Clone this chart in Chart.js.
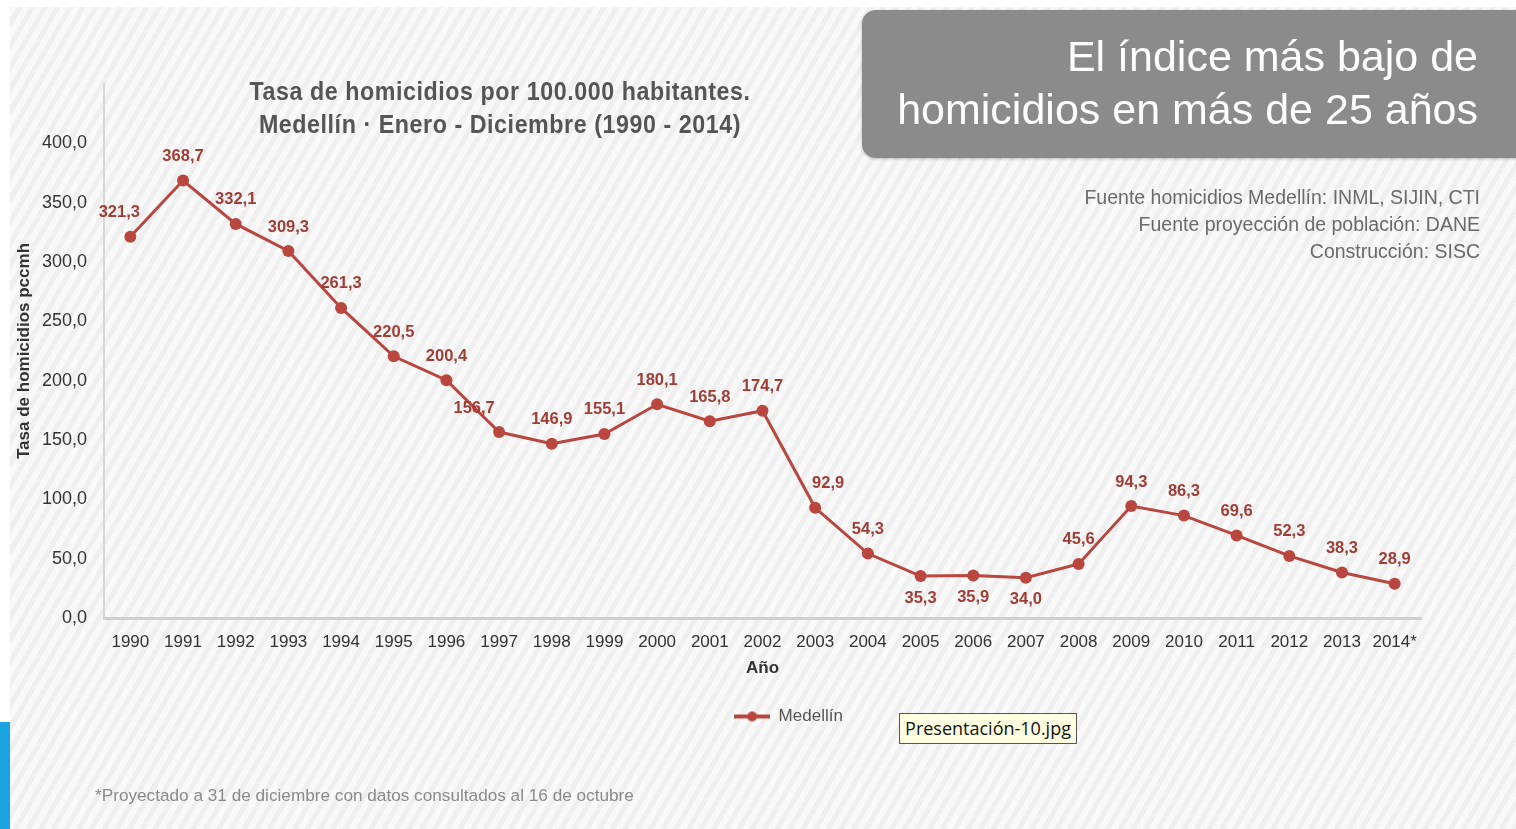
<!DOCTYPE html>
<html lang="es">
<head>
<meta charset="utf-8">
<title>Tasa de homicidios Medellín 1990-2014</title>
<script src="https://cdn.jsdelivr.net/npm/chart.js@4.4.1/dist/chart.umd.min.js"></script>
<style>
  html, body { margin:0; padding:0; background:#fff; }
  body { width:1516px; height:829px; position:relative; overflow:hidden; font-family:"Liberation Sans", Arial, sans-serif; }
  .slide {
    position:absolute; left:10px; top:7px; right:0; bottom:0;
    background: repeating-linear-gradient(120deg, #f9f9f9 0px, #f9f9f9 6px, #efefef 6px, #efefef 11px);
  }
  .blue { position:absolute; left:0; top:722px; width:10px; height:107px; background:#19a3e0; }
  #chart { position:absolute; left:0; top:0; }
  .ctitle {
    position:absolute; left:200px; top:75px; width:600px; text-align:center; white-space:nowrap;
    font-weight:bold; font-size:25px; line-height:33px; color:#555; letter-spacing:0.6px;
    transform:scaleX(0.93); transform-origin:300px 0;
  }
  .banner {
    position:absolute; left:862px; top:10px; width:680px; height:148px;
    background:#8b8b8b; border-radius:14px; box-shadow:0 1px 3px rgba(0,0,0,0.25);
  }
  .banner div {
    position:absolute; right:64px; top:20px; text-align:right; color:#fff;
    font-size:43px; line-height:53px; width:640px; white-space:nowrap;
  }
  .source {
    position:absolute; right:36px; top:184px; text-align:right; color:#6a6a6a;
    font-size:19.5px; line-height:27px;
  }
  .note { position:absolute; left:95px; top:785px; color:#8a8a8a; font-size:17.2px; }
  .tip {
    position:absolute; left:899px; top:713px; width:178px; height:31px; box-sizing:border-box;
    background:#ffffe1; border:1px solid #555; font-family:"Open Sans", sans-serif; font-size:18px;
    color:#111; line-height:29px; text-align:center;
  }
</style>
</head>
<body>
<div class="slide"></div>
<div class="blue"></div>
<canvas id="chart" width="1516" height="829"></canvas>
<div class="ctitle">Tasa de homicidios por 100.000 habitantes.<br>Medellín · Enero - Diciembre (1990 - 2014)</div>
<div class="banner"><div>El índice más bajo de<br>homicidios en más de 25 años</div></div>
<div class="source">Fuente homicidios Medellín: INML, SIJIN, CTI<br>Fuente proyección de población: DANE<br>Construcción: SISC</div>
<div class="tip">Presentación-10.jpg</div>
<div class="note">*Proyectado a 31 de diciembre con datos consultados al 16 de octubre</div>

<script>
// data
const years = ['1990','1991','1992','1993','1994','1995','1996','1997','1998','1999','2000','2001','2002',
  '2003','2004','2005','2006','2007','2008','2009','2010','2011','2012','2013','2014*'];
const medellin = [321.3,368.7,332.1,309.3,261.3,220.5,200.4,156.7,146.9,155.1,180.1,165.8,174.7,
  92.9,54.3,35.3,35.9,34.0,45.6,94.3,86.3,69.6,52.3,38.3,28.9];
const yTicks = [0,50,100,150,200,250,300,350,400];

// where each value label sits relative to its point (layout only)
const labelBelow = ['2005','2006','2007'];
const labelNudge = {'1990':-11, '1997':-25, '2003':13};

const lineColor = '#b9463f';
const labelColor = '#a23d36';
const fmt = v => v.toFixed(1).replace('.', ',');

// legend marker: line with a dot
const marker = document.createElement('canvas');
marker.width = 36; marker.height = 12;
(function(){
  const c = marker.getContext('2d');
  c.strokeStyle = lineColor; c.lineWidth = 4;
  c.beginPath(); c.moveTo(0,6); c.lineTo(36,6); c.stroke();
  c.fillStyle = lineColor;
  c.beginPath(); c.arc(18,6,5,0,Math.PI*2); c.fill();
})();

const valueLabels = {
  id:'valueLabels',
  afterDatasetsDraw(chart){
    const ctx = chart.ctx;
    const meta = chart.getDatasetMeta(0);
    ctx.save();
    ctx.font = 'bold 16.5px "Liberation Sans", Arial, sans-serif';
    ctx.fillStyle = labelColor;
    ctx.textAlign = 'center';
    ctx.textBaseline = 'middle';
    meta.data.forEach((pt, i) => {
      const yr = years[i];
      const below = labelBelow.includes(yr);
      const dx = labelNudge[yr] || 0;
      ctx.fillText(fmt(medellin[i]), pt.x + dx, pt.y + (below ? 22 : -24));
    });
    ctx.restore();
  }
};

// the legend sits a bit right of centre in the original
const legendShift = {
  id:'legendShift',
  afterLayout(chart){
    chart.legend.left += 72;
    chart.legend.right += 72;
  }
};

new Chart(document.getElementById('chart'), {
  type:'line',
  data:{
    labels: years,
    datasets:[{
      label:'Medellín',
      data: medellin,
      borderColor: lineColor,
      backgroundColor: lineColor,
      borderWidth: 3,
      pointRadius: 6,
      pointHoverRadius: 6,
      pointBackgroundColor: lineColor,
      pointBorderWidth: 0,
      tension: 0
    }]
  },
  options:{
    responsive:false,
    animation:false,
    devicePixelRatio:1,
    layout:{ padding:{ left:12, top:84, right:95, bottom:94 } },
    plugins:{
      tooltip:{ enabled:false },
      legend:{
        position:'bottom',
        labels:{
          usePointStyle:true,
          pointStyle: marker,
          pointStyleWidth: 36,
          boxHeight: 12,
          padding: 10,
          color:'#555',
          font:{ size:17, family:'"Liberation Sans", Arial, sans-serif' }
        }
      }
    },
    scales:{
      x:{
        offset:true,
        grid:{ display:false, drawTicks:false },
        border:{ display:true, color:'#d0d0d0', width:3 },
        ticks:{ color:'#333', padding:14, maxRotation:0, autoSkip:false,
          font:{ size:17, family:'"Liberation Sans", Arial, sans-serif' } },
        title:{ display:true, text:'Año', color:'#333', padding:{ top:0, bottom:19 },
          font:{ size:17, weight:'bold', family:'"Liberation Sans", Arial, sans-serif' } },
        afterFit(scale){ scale.height = 80; }
      },
      y:{
        min:0, max:450,
        grid:{ display:false, drawTicks:false },
        border:{ display:true, color:'#d6d6d6', width:2 },
        afterBuildTicks(scale){ scale.ticks = yTicks.concat([450]).map(v => ({ value:v })); },
        ticks:{ color:'#333', padding:17,
          font:{ size:18, family:'"Liberation Sans", Arial, sans-serif' },
          callback:v => v === 450 ? '' : fmt(v) },
        title:{ display:true, text:'Tasa de homicidios pccmh', color:'#333', padding:{ top:2, bottom:0 },
          font:{ size:17, weight:'bold', family:'"Liberation Sans", Arial, sans-serif' } },
        afterFit(scale){ scale.width = 92; }
      }
    }
  },
  plugins:[valueLabels, legendShift]
});
</script>
</body>
</html>
